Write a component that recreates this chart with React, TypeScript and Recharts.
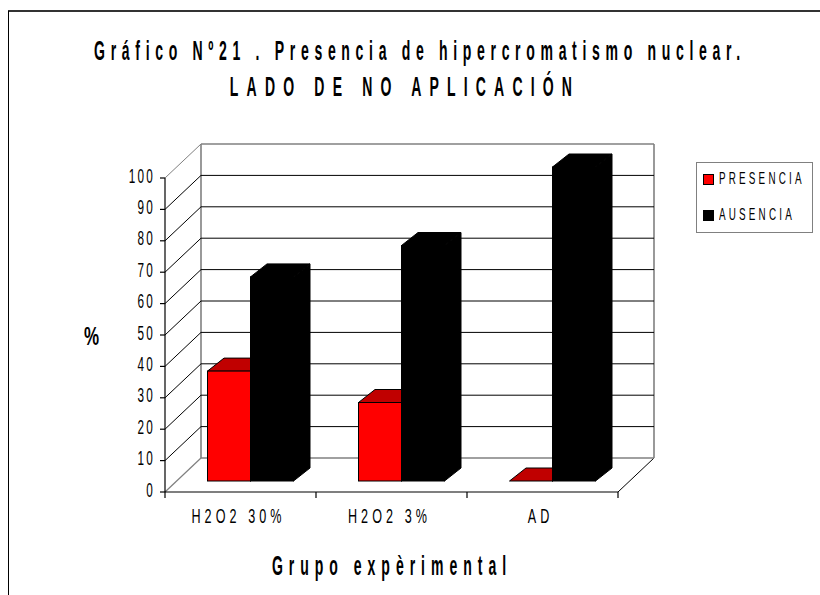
import { BarChart, Bar, XAxis, YAxis, CartesianGrid, Legend, Label } from 'recharts'

const categories = ['H2O2 30%', 'H2O2 3%', 'AD']
const presencia = [35, 25, 0]
const ausencia = [65, 75, 100]
const yTicks = [0, 10, 20, 30, 40, 50, 60, 70, 80, 90, 100]
const seriesOrder = ['PRESENCIA', 'AUSENCIA']

const data = categories.map((name, i) => ({ name, presencia: presencia[i], ausencia: ausencia[i] }))

const FONT = '"Liberation Sans", Arial, sans-serif'
const W = 820
const H = 595
const margin = { top: 167, right: 192.5, bottom: 113, left: 173.5 }
const plotH = 314

// the bars stand on a plane between the front axis and the back wall
const FRONT = { dx: -9.5, dy: 11 }
const BACK = { dx: 26.5, dy: -23 }
const BAR_DX = 16.5
const BAR_DY = -13

const GREY = '#808080'

function gridLine(props: any) {
  const { x1, x2, y1, index } = props
  const isFloor = y1 >= margin.top + plotH - 0.5
  const isTop = y1 <= margin.top + 0.5
  const fx1 = x1 + FRONT.dx
  const fx2 = x2 + FRONT.dx
  const fy = y1 + FRONT.dy
  const bx1 = x1 + BACK.dx
  const bx2 = x2 + BACK.dx
  const by = y1 + BACK.dy
  if (isFloor) {
    return (
      <g key={index}>
        <line x1={fx1} y1={fy} x2={bx1} y2={by} stroke={GREY} strokeWidth={1.2} />
        <line x1={fx2} y1={fy} x2={bx2} y2={by} stroke="#000" strokeWidth={1} />
        <line x1={bx1} y1={by} x2={bx2} y2={by} stroke={GREY} strokeWidth={1.6} />
        <line x1={fx1} y1={fy} x2={fx2} y2={fy} stroke="#000" strokeWidth={1.2} />
        <line x1={fx1} y1={fy} x2={fx1} y2={fy - plotH} stroke="#000" strokeWidth={1.2} />
        <line x1={bx1} y1={by} x2={bx1} y2={by - plotH} stroke={GREY} strokeWidth={1.6} />
        <line x1={bx2} y1={by} x2={bx2} y2={by - plotH} stroke={GREY} strokeWidth={1.6} />
      </g>
    )
  }
  return (
    <g key={index}>
      <line x1={fx1} y1={fy} x2={bx1} y2={by} stroke={isTop ? GREY : '#000'} strokeWidth={1} />
      <line x1={bx1} y1={by} x2={bx2} y2={by} stroke={isTop ? GREY : '#000'} strokeWidth={isTop ? 1.6 : 1} />
    </g>
  )
}

function Box3D(props: any) {
  const { x, y, width, height, fill, topFill, sideFill } = props
  const r = x + width
  const b = y + height
  return (
    <g stroke="#000" strokeWidth={1} strokeLinejoin="miter">
      <polygon
        points={`${r},${y} ${r + BAR_DX},${y + BAR_DY} ${r + BAR_DX},${b + BAR_DY} ${r},${b}`}
        fill={sideFill}
      />
      <polygon
        points={`${x},${y} ${x + BAR_DX},${y + BAR_DY} ${r + BAR_DX},${y + BAR_DY} ${r},${y}`}
        fill={topFill}
      />
      <rect x={x} y={y} width={width} height={height} fill={fill} />
    </g>
  )
}

function YTick({ x, y, payload }: any) {
  const ax = x + FRONT.dx
  const ay = y + FRONT.dy
  return (
    <g>
      <line x1={ax - 5} y1={ay} x2={ax} y2={ay} stroke="#000" strokeWidth={1.2} />
      <text
        transform={`translate(${ax - 10},${ay + 4.5}) scale(0.56,1)`}
        textAnchor="end"
        fontFamily={FONT}
        fontSize={21}
        letterSpacing={4}
        fill="#000"
      >
        {payload.value}
      </text>
    </g>
  )
}

function XTick({ x, y, payload, index }: any) {
  const band = (W - margin.left - 1 - margin.right) / categories.length
  const ax = x + FRONT.dx
  const ay = y + FRONT.dy
  return (
    <g>
      <line x1={ax - band / 2} y1={ay} x2={ax - band / 2} y2={ay + 6} stroke="#000" strokeWidth={1.2} />
      {index === categories.length - 1 && (
        <line x1={ax + band / 2} y1={ay} x2={ax + band / 2} y2={ay + 6} stroke="#000" strokeWidth={1.2} />
      )}
      <text
        transform={`translate(${ax - 2},${ay + 30.5}) scale(0.6,1)`}
        textAnchor="middle"
        fontFamily={FONT}
        fontSize={21}
        letterSpacing={6.8}
        fill="#000"
      >
        {payload.value}
      </text>
    </g>
  )
}

function LegendBox({ payload }: any) {
  return (
    <div
      style={{
        width: 115,
        height: 69,
        border: `1px solid ${GREY}`,
        background: '#fff',
        fontFamily: FONT,
        fontSize: 17,
        lineHeight: '20px',
        letterSpacing: 5.5,
        color: '#000',
        position: 'relative',
      }}
    >
      {(payload || []).map((p: any, i: number) => (
        <div key={p.value} style={{ position: 'absolute', left: 6, top: 6 + i * 35.5, height: 20, whiteSpace: 'nowrap' }}>
          <span
            style={{
              position: 'absolute',
              left: 0,
              top: 5,
              width: 9,
              height: 9,
              background: p.color,
              border: '1px solid #000',
            }}
          />
          <span style={{ position: 'absolute', left: 16, top: 0, transformOrigin: 'left', transform: 'scaleX(0.58)' }}>
            {p.value}
          </span>
        </div>
      ))}
    </div>
  )
}

function xTitle({ viewBox }: any) {
  return (
    <text
      transform={`translate(${viewBox.x + viewBox.width / 2 - 9},${viewBox.y + 94}) scale(0.52,1)`}
      textAnchor="middle"
      fontFamily={FONT}
      fontWeight={700}
      fontSize={27}
      letterSpacing={11.5}
      fill="#000"
    >
      Grupo expèrimental
    </text>
  )
}

function yTitle({ viewBox }: any) {
  return (
    <text
      transform={`translate(${viewBox.x - 82},${viewBox.y + viewBox.height / 2 + 21}) scale(0.68,1)`}
      textAnchor="middle"
      fontFamily={FONT}
      fontWeight={700}
      fontSize={25}
      fill="#000"
    >
      %
    </text>
  )
}

const titleStyle = {
  position: 'absolute' as const,
  width: 2000,
  textAlign: 'center' as const,
  fontFamily: FONT,
  fontWeight: 700,
  fontSize: 27,
  lineHeight: '30px',
  color: '#000',
  whiteSpace: 'pre' as const,
  transform: 'scaleX(0.52)',
}

export default function App() {
  return (
    <div style={{ position: 'absolute', left: 0, top: 0, width: W, height: H, overflow: 'hidden', background: '#fff' }}>
      <div style={{ position: 'absolute', left: 8, top: 10, right: 0, height: 0, borderTop: '2px solid #333' }} />
      <div style={{ position: 'absolute', left: 8, top: 11, bottom: 0, width: 0, borderLeft: '1px solid #000' }} />
      <div style={{ ...titleStyle, left: 420 - 1000, top: 36, letterSpacing: 10.9 }}>
        {'Gráfico Nº21 . Presencia de hipercromatismo nuclear.'}
      </div>
      <div style={{ ...titleStyle, left: 405 - 1000, top: 72, letterSpacing: 15.7 }}>{'LADO DE NO APLICACIÓN'}</div>
      <div style={{ position: 'absolute', left: 0, top: 0 }}>
        <BarChart width={W} height={H} data={data} margin={margin} barSize={43} barGap={0}>
          <CartesianGrid vertical={false} horizontal={gridLine} />
          <XAxis dataKey="name" height={1} axisLine={false} tickLine={false} tickSize={0} tickMargin={0} tick={XTick} interval={0}>
            <Label content={xTitle} />
          </XAxis>
          <YAxis width={1} domain={[0, 100]} ticks={yTicks} interval={0} axisLine={false} tickLine={false} tickSize={0} tickMargin={0} tick={YTick}>
            <Label content={yTitle} />
          </YAxis>
          <Legend
            layout="vertical"
            align="center"
            verticalAlign="middle"
            itemSorter={(item: any) => seriesOrder.indexOf(item.value)}
            wrapperStyle={{ left: 696, top: 162, width: 117 }}
            content={LegendBox}
          />
          <Bar
            dataKey="presencia"
            name="PRESENCIA"
            fill="#ff0000"
            isAnimationActive={false}
            shape={(p: any) => <Box3D {...p} topFill="#c00000" sideFill="#800000" />}
          />
          <Bar
            dataKey="ausencia"
            name="AUSENCIA"
            fill="#000000"
            isAnimationActive={false}
            shape={(p: any) => <Box3D {...p} topFill="#000000" sideFill="#000000" />}
          />
        </BarChart>
      </div>
    </div>
  )
}
